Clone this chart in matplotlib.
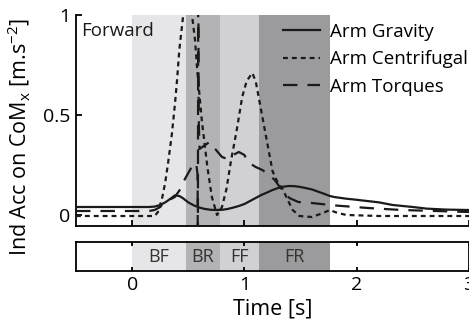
import matplotlib
matplotlib.use("Agg")
import matplotlib.pyplot as plt
from matplotlib.lines import Line2D

plt.rcParams['font.family'] = ['Open Sans', 'DejaVu Sans']
plt.rcParams['mathtext.fontset'] = 'custom'
plt.rcParams['mathtext.rm'] = 'Open Sans'
plt.rcParams['mathtext.it'] = 'Open Sans'

# ---------------- data ----------------
grav_t = [-0.5, 0.0, 0.15, 0.2, 0.25, 0.3, 0.35, 0.38, 0.42, 0.45, 0.5, 0.55, 0.6, 0.65,
          0.7, 0.75, 0.8, 0.85, 0.9, 0.95, 1.0, 1.05, 1.1, 1.15, 1.2, 1.25, 1.3, 1.35,
          1.4, 1.45, 1.5, 1.6, 1.7, 1.76, 1.8, 1.9, 2.0, 2.2, 2.32, 2.5, 2.62, 2.8, 3.0]
grav_v = [0.04, 0.04, 0.04, 0.042, 0.05, 0.065, 0.085, 0.098, 0.095, 0.085, 0.063, 0.048,
          0.037, 0.03, 0.026, 0.025, 0.026, 0.03, 0.037, 0.045, 0.055, 0.07, 0.085, 0.1,
          0.112, 0.125, 0.135, 0.142, 0.145, 0.144, 0.14, 0.128, 0.108, 0.095, 0.09, 0.082,
          0.076, 0.063, 0.05, 0.04, 0.032, 0.027, 0.025]

cent_t = [-0.5, 0.0, 0.2, 0.23, 0.267, 0.294, 0.32, 0.355, 0.382, 0.4, 0.42, 0.453, 0.49,
          0.533, 0.56, 0.58, 0.604, 0.62, 0.67, 0.71, 0.756, 0.8, 0.84, 0.88, 0.93, 0.98,
          1.02, 1.07, 1.1, 1.13, 1.18, 1.22, 1.25, 1.29, 1.34, 1.39, 1.43, 1.49, 1.6, 1.7,
          1.76, 1.83, 1.91, 2.2, 3.0]
cent_v = [-0.005, -0.005, -0.005, 0.015, 0.085, 0.16, 0.26, 0.41, 0.56, 0.675, 0.825, 0.99,
          1.08, 1.0, 0.875, 0.72, 0.575, 0.475, 0.24, 0.09, 0.0, 0.04, 0.13, 0.27, 0.42,
          0.59, 0.67, 0.71, 0.67, 0.58, 0.43, 0.31, 0.22, 0.17, 0.13, 0.07, 0.025, -0.005,
          -0.01, 0.01, 0.025, 0.01, 0.0, -0.005, -0.005]

torq_t = [-0.5, 0.0, 0.15, 0.2, 0.25, 0.28, 0.33, 0.38, 0.43, 0.47, 0.53, 0.57, 0.583,
          0.585, 0.589, 0.592, 0.6, 0.65, 0.69, 0.74, 0.8, 0.85, 0.9, 0.95, 1.0, 1.03,
          1.1, 1.16, 1.22, 1.27, 1.34, 1.4, 1.48, 1.6, 1.8, 2.1, 2.4, 2.7, 3.0]
torq_v = [0.02, 0.02, 0.02, 0.025, 0.04, 0.06, 0.075, 0.09, 0.13, 0.18, 0.24, 0.26, 0.2,
          -0.3, 1.4, 0.5, 0.33, 0.35, 0.365, 0.33, 0.29, 0.28, 0.3, 0.315, 0.3, 0.265,
          0.24, 0.225, 0.2, 0.175, 0.12, 0.085, 0.065, 0.06, 0.048, 0.035, 0.025, 0.02, 0.015]

phase_names = ["BF", "BR", "FF", "FR"]
phase_edges = [0.0, 0.48, 0.78, 1.13, 1.76]
phase_colors = ["#e6e6e8", "#b3b3b5", "#d1d1d3", "#9b9b9d"]

series_labels = ["Arm Gravity", "Arm Centrifugal", "Arm Torques"]
xticks = [0, 1, 2, 3]
yticks = [0, 0.5, 1]

# ---------------- figure ----------------
W, H = 469, 329
fig = plt.figure(figsize=(W / 100, H / 100), dpi=100)
FS = 13.5
FT = 14
FL = 15.5

ax = fig.add_axes([76 / W, 1 - 226 / H, (W - 76) / W, (226 - 15) / H])
axb = fig.add_axes([76 / W, 1 - 271 / H, (W - 76) / W, (271 - 242) / H])

for a in (ax, axb):
    for i, name in enumerate(phase_names):
        a.axvspan(phase_edges[i], phase_edges[i + 1], color=phase_colors[i], lw=0, zorder=0)

lw = 1.6
ax.plot(grav_t, grav_v, color="#1a1a1a", lw=lw, solid_capstyle='butt', zorder=3)
ax.plot(cent_t, cent_v, color="#1a1a1a", lw=lw, dashes=(2.2, 1.8), zorder=3)
ax.plot(torq_t, torq_v, color="#1a1a1a", lw=lw, dashes=(6.5, 4.5), zorder=3)

ax.set_xlim(-0.5, 3.0)
ax.set_ylim(-0.055, 1.0)
ax.set_xticks(xticks)
ax.set_yticks(yticks)
ax.set_yticklabels(["0", "0.5", "1"])
ax.tick_params(axis='x', direction='in', length=4, width=1.3, labelbottom=False)
ax.tick_params(axis='y', direction='in', length=4, width=1.3, labelsize=FT, pad=4)
for s in ("top", "right"):
    ax.spines[s].set_visible(False)
for s in ("bottom", "left"):
    ax.spines[s].set_linewidth(1.3)

ax.text(-0.455, 0.895, "Forward", fontsize=FS, ha='left', va='baseline', color='#1a1a1a')

handles = [Line2D([], [], color="#1a1a1a", lw=lw),
           Line2D([], [], color="#1a1a1a", lw=lw, dashes=(2.2, 1.8)),
           Line2D([], [], color="#1a1a1a", lw=lw, dashes=(6.5, 4.5))]
ax.legend(handles, series_labels, loc='upper left', bbox_to_anchor=(0.527, 0.962),
          frameon=False, borderaxespad=0, borderpad=0, handlelength=1.97,
          handletextpad=0.53, labelspacing=0.5, fontsize=FS)

fig.text(19 / W, 1 - 137 / H, r"Ind Acc on CoM$_\mathregular{x}$ [m.s$^\mathregular{-2}$]",
         rotation=90, ha='center', va='center', fontsize=FL)

axb.set_xlim(-0.5, 3.0)
axb.set_ylim(0, 1)
axb.set_yticks([])
axb.set_xticks(xticks)
axb.tick_params(axis='x', direction='in', length=3, width=1.3, top=True, labelsize=FT, pad=3.5)
for s in axb.spines.values():
    s.set_linewidth(1.3)
for i, name in enumerate(phase_names):
    axb.text((phase_edges[i] + phase_edges[i + 1]) / 2, 0.5, name, ha='center', va='center',
             fontsize=FS - 0.5, color='#333333')
axb.set_xlabel("Time [s]", fontsize=FL, labelpad=3)

fig.savefig("out.png", dpi=100)
